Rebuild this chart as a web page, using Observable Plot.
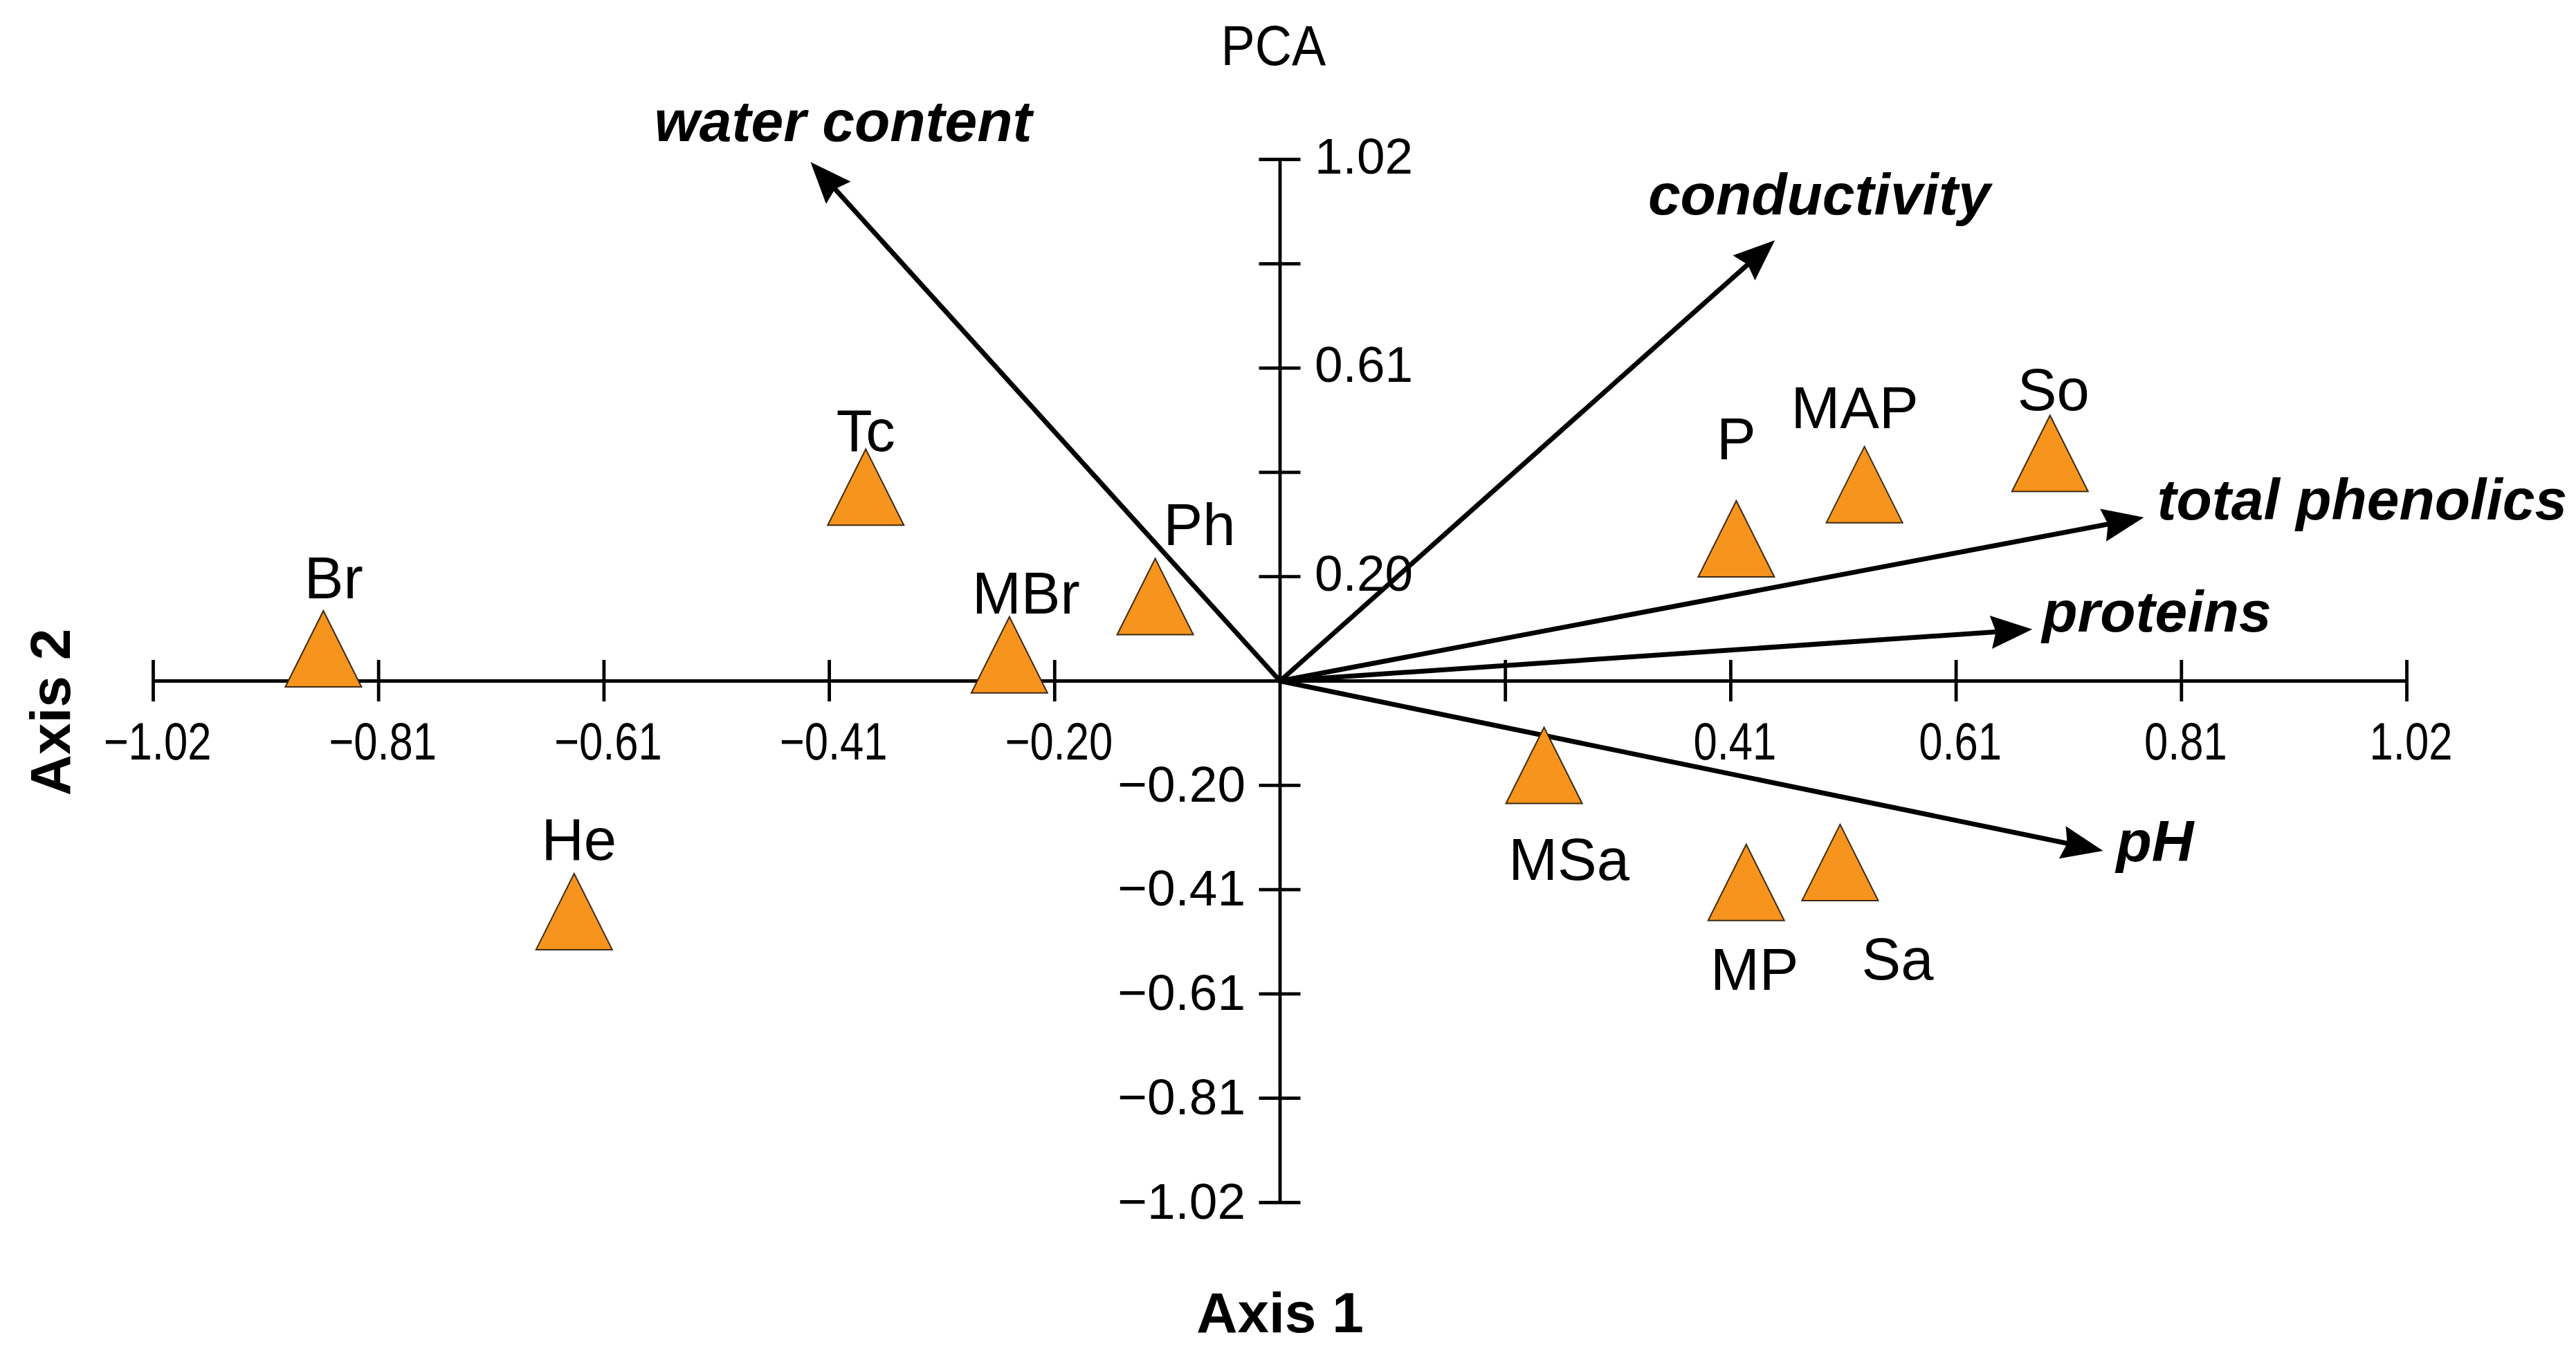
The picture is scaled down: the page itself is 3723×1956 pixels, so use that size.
<!DOCTYPE html>
<html>
<head>
<meta charset="utf-8">
<script src="https://cdn.jsdelivr.net/npm/d3@7"></script>
<script src="https://cdn.jsdelivr.net/npm/@observablehq/plot@0.6"></script>
<style>
  html, body { margin: 0; padding: 0; background: #fff; }
  #title { width: 3723px; height: 132px; line-height: 132px; text-align: center; padding-right: 42px; box-sizing: border-box;
           font-family: "Liberation Sans", Arial, sans-serif; font-size: 82px; color: #000; }
  #title span { display: inline-block; transform: scaleX(0.9); }
</style>
</head>
<body>
<div id="title"><span>PCA</span></div>
<div id="chart"></div>
<script>
// ---- data ----
const samples = ["Br", "Tc", "MBr", "Ph", "He", "MSa", "P", "MAP", "So", "MP", "Sa"];
const sampleAxis1 = [-0.866, -0.375, -0.245, -0.113, -0.639, 0.239, 0.413, 0.529, 0.697, 0.422, 0.507];
const sampleAxis2 = [0.063, 0.379, 0.051, 0.165, -0.451, -0.165, 0.278, 0.384, 0.445, -0.394, -0.355];

const variables = ["water content", "conductivity", "total phenolics", "proteins", "pH"];
const varAxis1 = [-0.425, 0.448, 0.782, 0.681, 0.745];
const varAxis2 = [1.015, 0.862, 0.320, 0.101, -0.332];

const xTickValues = [-1.02, -0.816, -0.612, -0.408, -0.204, 0.204, 0.408, 0.612, 0.816, 1.02];
const xTickLabels = ["−1.02", "−0.81", "−0.61", "−0.41", "−0.20", "", "0.41", "0.61", "0.81", "1.02"];
const yTickValues = [-1.02, -0.816, -0.612, -0.408, -0.204, 0.204, 0.408, 0.612, 0.816, 1.02];
const yTickLabels = ["−1.02", "−0.81", "−0.61", "−0.41", "−0.20", "0.20", "", "0.61", "", "1.02"];

// ---- tables built from the arrays ----
const sampleTable = samples.map((name, i) => ({name, a1: sampleAxis1[i], a2: sampleAxis2[i]}));
const varTable = variables.map((name, i) => ({name, a1: varAxis1[i], a2: varAxis2[i]}));
const xTickTable = xTickValues.map((v, i) => ({v, label: xTickLabels[i]})).filter(d => d.label !== "");
const yTickTable = yTickValues.map((v, i) => ({v, label: yTickLabels[i]})).filter(d => d.label !== "");

// ---- layout ----
const W = 3723, H = 1824;
const mL = 221, mR = 245, mT = 98, mB = 218;
const xDom = [d3.min(xTickValues), d3.max(xTickValues)];
const yDom = [d3.min(yTickValues), d3.max(yTickValues)];
const kx = (W - mL - mR) / (xDom[1] - xDom[0]);
const ky = (H - mT - mB) / (yDom[1] - yDom[0]);
const screenAngle = d => Math.atan2(-d.a2 * ky, d.a1 * kx) * 180 / Math.PI;

const font = "'Liberation Sans', Arial, Helvetica, sans-serif";
const orange = "#F7941D";

// custom symbols
const triangleUp = {
  draw(ctx, size) {
    const r = Math.sqrt(size / Math.PI);
    ctx.moveTo(0, -r); ctx.lineTo(r, r); ctx.lineTo(-r, r); ctx.closePath();
  }
};
const arrowHead = {
  draw(ctx, size) {
    const r = Math.sqrt(size / Math.PI);
    ctx.moveTo(0, 0); ctx.lineTo(-r, -0.4 * r); ctx.lineTo(-0.88 * r, 0); ctx.lineTo(-r, 0.4 * r); ctx.closePath();
  }
};

// label placement (pixels)
const sampleLabelOffset = {
  Br: [15, -100], Tc: [0, -80], MBr: [24, -87], Ph: [64, -102], He: [7, -102],
  MSa: [36, 138], P: [0, -142], MAP: [-14, -109], So: [5, -90], MP: [12, 128], Sa: [83, 142]
};
const varLabelOffset = {
  "water content": ["middle", 47, -57],
  "conductivity": ["middle", 64, -64],
  "total phenolics": ["start", 19, -24],
  "proteins": ["start", 14, -24],
  "pH": ["start", 19, -12]
};

const marks = [
  // axes through the origin
  Plot.ruleY([0], {x1: xDom[0], x2: xDom[1], stroke: "#000", strokeWidth: 4.8}),
  Plot.ruleX([0], {y1: yDom[0], y2: yDom[1], stroke: "#000", strokeWidth: 4.8}),
  Plot.ruleX(xTickValues, {x: d => d, y1: 0, y2: 0, insetTop: -30, insetBottom: -30, stroke: "#000", strokeWidth: 4.8}),
  Plot.ruleY(yTickValues, {y: d => d, x1: 0, x2: 0, insetLeft: -30, insetRight: -30, stroke: "#000", strokeWidth: 4.8}),
  // tick labels
  Plot.text(xTickTable, {x: "v", y: 0, text: "label", dx: 6, dy: 89, fontSize: 76, fill: "#000", className: "xlab"}),
  Plot.text(yTickTable.filter(d => d.v > 0), {x: 0, y: "v", text: "label", textAnchor: "start", dx: 50, dy: -3, fontSize: 73, fill: "#000"}),
  Plot.text(yTickTable.filter(d => d.v < 0), {x: 0, y: "v", text: "label", textAnchor: "end", dx: -50, dy: 0, fontSize: 73, fill: "#000"}),
  // variable vectors
  Plot.arrow(varTable, {x1: 0, y1: 0, x2: "a1", y2: "a2", headLength: 0, insetEnd: 38, stroke: "#000", strokeWidth: 7}),
  Plot.dot(varTable, {x: "a1", y: "a2", symbol: arrowHead, r: 60, fill: "#000", stroke: "none", rotate: screenAngle}),
  ...varTable.map(d => Plot.text([d], {
    x: "a1", y: "a2", text: "name", textAnchor: varLabelOffset[d.name][0],
    dx: varLabelOffset[d.name][1], dy: varLabelOffset[d.name][2],
    fontSize: 84, fontWeight: "bold", fontStyle: "italic", fill: "#000"
  })),
  // samples
  Plot.dot(sampleTable, {x: "a1", y: "a2", symbol: triangleUp, r: 55, fill: orange, stroke: "#3d2a14", strokeWidth: 2}),
  ...sampleTable.map(d => Plot.text([d], {
    x: "a1", y: "a2", text: "name",
    dx: sampleLabelOffset[d.name][0], dy: sampleLabelOffset[d.name][1],
    fontSize: 85, fill: "#000"
  })),
  // axis titles
  Plot.text(["Axis 1"], {frameAnchor: "bottom", text: d => d, textAnchor: "middle", lineAnchor: "middle", dy: 161, fontSize: 82, fontWeight: "bold", fill: "#000"}),
  Plot.text(["Axis 2"], {frameAnchor: "left", text: d => d, textAnchor: "middle", lineAnchor: "middle", rotate: -90, dx: -147, dy: 45, fontSize: 82, fontWeight: "bold", fill: "#000"})
];

const chart = Plot.plot({
  width: W, height: H,
  marginLeft: mL, marginRight: mR, marginTop: mT, marginBottom: mB,
  x: {domain: xDom, axis: null},
  y: {domain: yDom, axis: null},
  style: {fontFamily: font, background: "#fff", overflow: "visible"},
  marks
});

// condensed x tick labels as in the reference
d3.select(chart).selectAll("g.xlab text").each(function() {
  const t = this.getAttribute("transform") || "";
  this.setAttribute("transform", t + " scale(0.81,1)");
});

document.getElementById("chart").appendChild(chart);
</script>
</body>
</html>
